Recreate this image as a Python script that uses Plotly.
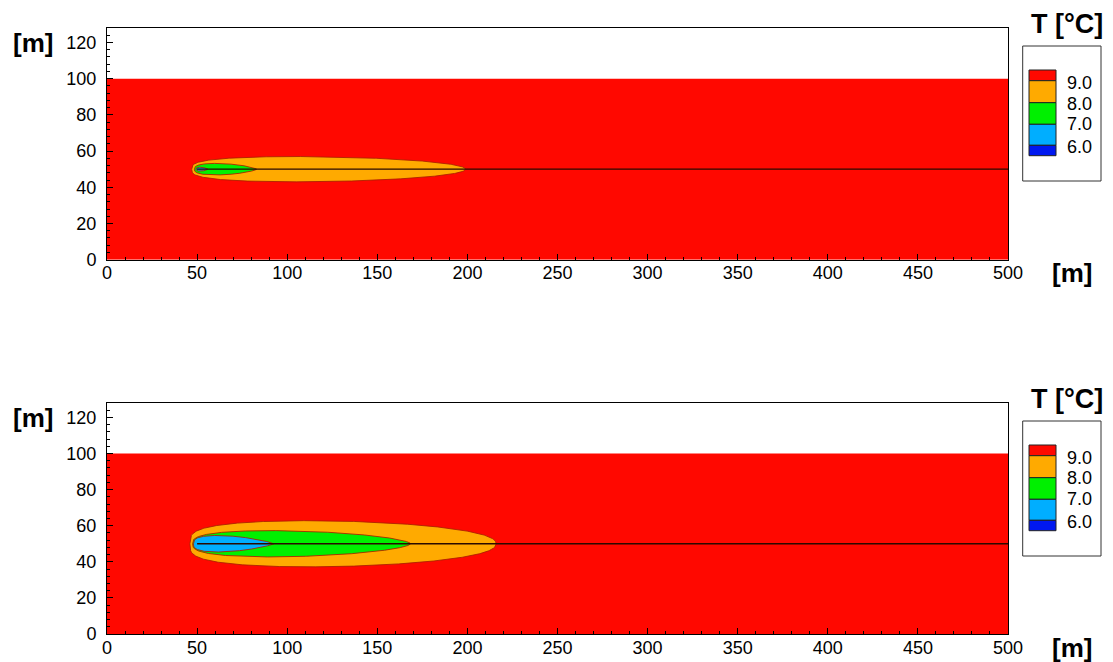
import numpy as np
import plotly.graph_objects as go

# ---------------- data ----------------
legend_levels = ["9.0", "8.0", "7.0", "6.0"]
legend_colors = ["#FF0800", "#FFAA00", "#00F000", "#00AEFF", "#0018F0"]

domain_x = [0, 500]
domain_depth = [0, 100]
plume_axis_y = 50
axis_line_x = [50, 500]

region_colors = ["#FFAA00", "#00F000", "#00AEFF"]   # 8-9, 7-8, 6-7 degC

# upper panel
top_x_start = [47.0, 48.5, 49.5]
top_x_end = [199.0, 83.0, 56.0]
top_half_width = [7.0, 3.2, 1.1]

# lower panel
bot_x_start = [46.0, 47.5, 48.0]
bot_x_end = [216.0, 168.5, 92.5]
bot_half_width = [12.8, 7.3, 4.6]

# shape exponents of the plume outlines (rounded head, tapered tail)
top_p = [0.3, 0.35, 0.35]
top_q = [0.5, 0.7, 0.8]
bot_p = [0.28, 0.33, 0.33]
bot_q = [0.45, 0.6, 0.8]

x_ticks = [0, 50, 100, 150, 200, 250, 300, 350, 400, 450, 500]
y_ticks = [0, 20, 40, 60, 80, 100, 120]

# ---------------- figure ----------------
W, H = 1113, 662
ML, MR, MT, MB = 107, 105, 28, 28
PW, PH = W - ML - MR, H - MT - MB


def px(x):
    return (x - ML) / PW


def py(y):
    return (H - MB - y) / PH


fig = go.Figure()

FONT = "Liberation Sans, Arial, sans-serif"


def outline(x0, x1, w, p, q):
    t = np.linspace(0, 1, 400)
    g = t ** p * (1 - t) ** q
    g = g / g.max()
    xs = x0 + t * (x1 - x0)
    xx = np.concatenate([xs, xs[::-1]])
    yy = np.concatenate([plume_axis_y + w * g, (plume_axis_y - w * g)[::-1]])
    return xx, yy


panels = [
    (top_x_start, top_x_end, top_half_width, top_p, top_q, "x", "y"),
    (bot_x_start, bot_x_end, bot_half_width, bot_p, bot_q, "x2", "y2"),
]

for xs0, xs1, hw, pp, qq, xa, ya in panels:
    fig.add_trace(go.Scatter(
        x=[domain_x[0], domain_x[1], domain_x[1], domain_x[0], domain_x[0]],
        y=[domain_depth[0], domain_depth[0], domain_depth[1], domain_depth[1], domain_depth[0]],
        fill="toself", fillcolor=legend_colors[0], mode="lines",
        line=dict(width=0, color=legend_colors[0]),
        xaxis=xa, yaxis=ya, hoverinfo="skip", showlegend=False))
    for i in range(len(xs0)):
        xx, yy = outline(xs0[i], xs1[i], hw[i], pp[i], qq[i])
        fig.add_trace(go.Scatter(
            x=xx, y=yy, fill="toself", fillcolor=region_colors[i], mode="lines",
            line=dict(width=1, color="rgba(170,30,0,0.85)"),
            xaxis=xa, yaxis=ya, hoverinfo="skip", showlegend=False))
    fig.add_trace(go.Scatter(
        x=axis_line_x, y=[plume_axis_y, plume_axis_y], mode="lines",
        line=dict(width=1.3, color="#2a0a00"),
        xaxis=xa, yaxis=ya, hoverinfo="skip", showlegend=False))

top_dom = [py(259.7), 1.0]
bot_dom = [0.0, py(403)]

xaxis_common = dict(
    range=domain_x, tickvals=x_ticks, ticks="inside", ticklen=6, tickwidth=1,
    tickcolor="black", showline=True, linecolor="black", linewidth=1, mirror=True,
    showgrid=False, zeroline=False, tickfont=dict(family=FONT, size=18, color="black"),
    minor=dict(dtick=10, ticks="inside", ticklen=3, tickcolor="black", showgrid=False),
    domain=[0, 1], fixedrange=True, automargin=False, ticklabelstandoff=-3,
)
yaxis_common = dict(
    range=[0, 128], tickvals=y_ticks, ticks="inside", ticklen=6, tickwidth=1,
    tickcolor="black", showline=True, linecolor="black", linewidth=1, mirror=True,
    showgrid=False, zeroline=False, tickfont=dict(family=FONT, size=18, color="black"),
    minor=dict(dtick=4, ticks="inside", ticklen=3, tickcolor="black", showgrid=False),
    ticklabelstandoff=6, fixedrange=True, automargin=False,
)

fig.update_layout(
    width=W, height=H,
    margin=dict(l=ML, r=MR, t=MT, b=MB, autoexpand=False),
    paper_bgcolor="white", plot_bgcolor="white",
    showlegend=False,
    xaxis=dict(**xaxis_common, anchor="y"),
    yaxis=dict(**yaxis_common, domain=top_dom, anchor="x"),
    xaxis2=dict(**xaxis_common, anchor="y2"),
    yaxis2=dict(**yaxis_common, domain=bot_dom, anchor="x2"),
)

shapes = []
annotations = []
swatch_edges = [70, 80.7, 102.7, 124.3, 145.3, 155.7]
label_ys = [82.5, 103.5, 124.5, 147]

for off in [0, 375]:
    annotations.append(dict(text="<b>[m]</b>", x=px(33), y=py(43 + off), xref="paper", yref="paper",
                            showarrow=False, xanchor="center", yanchor="middle",
                            font=dict(family=FONT, size=26, color="black")))
    annotations.append(dict(text="<b>[m]</b>", x=px(1072), y=py(272.5 + off), xref="paper", yref="paper",
                            showarrow=False, xanchor="center", yanchor="middle",
                            font=dict(family=FONT, size=26, color="black")))
    annotations.append(dict(text="<b>T [°C]</b>", x=px(1067), y=py(24 + off), xref="paper", yref="paper",
                            showarrow=False, xanchor="center", yanchor="middle",
                            font=dict(family=FONT, size=27, color="black")))
    shapes.append(dict(type="rect", xref="paper", yref="paper",
                       x0=px(1022.7), x1=px(1101), y0=py(46 + off), y1=py(181 + off),
                       line=dict(color="#333", width=1), fillcolor="white"))
    for i, c in enumerate(legend_colors):
        shapes.append(dict(type="rect", xref="paper", yref="paper",
                           x0=px(1029), x1=px(1056),
                           y0=py(swatch_edges[i] + off), y1=py(swatch_edges[i + 1] + off),
                           line=dict(color="#222", width=1), fillcolor=c))
    for lab, ly in zip(legend_levels, label_ys):
        annotations.append(dict(text=lab, x=px(1065), y=py(ly + off), xref="paper", yref="paper",
                                showarrow=False, xanchor="left", yanchor="middle",
                                font=dict(family=FONT, size=18, color="black")))

fig.update_layout(shapes=shapes, annotations=annotations)

fig.write_html("out.html", config={"displayModeBar": False},
               post_script="document.body.style.margin='0px';")
